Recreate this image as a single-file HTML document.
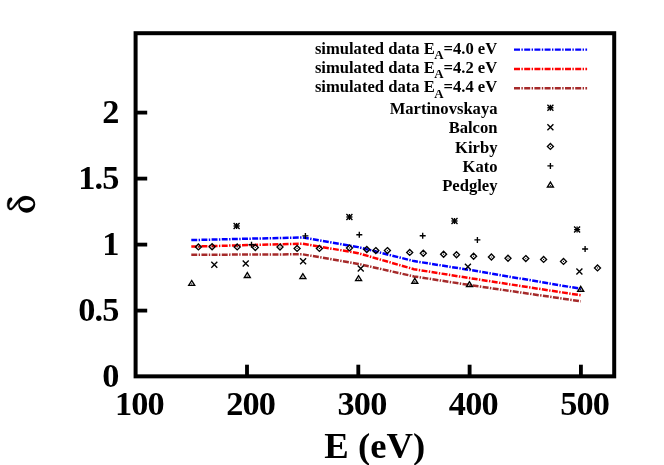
<!DOCTYPE html>
<html><head><meta charset="utf-8"><title>plot</title>
<style>html,body{margin:0;padding:0;background:#fff;}svg{display:block;will-change:transform;}text{font-family:"Liberation Serif",serif;font-weight:bold;fill:#000;}</style></head>
<body>
<svg width="664" height="465" viewBox="0 0 664 465">
<rect x="0" y="0" width="664" height="465" fill="#ffffff"/>
<polyline points="191.3,240.1 302.6,237.4 358.2,247.1 413.9,261.1 469.5,269.9 580.8,288.8" fill="none" stroke="#0000ff" stroke-width="2.5" stroke-dasharray="5.95 1.4 1.4 1.4"/>
<polyline points="191.3,246.6 302.6,243.7 358.2,253.2 413.9,269.2 469.5,278.1 580.8,295.3" fill="none" stroke="#ff0000" stroke-width="2.5" stroke-dasharray="5.95 1.4 1.4 1.4"/>
<polyline points="191.3,254.8 302.6,254.3 358.2,263.9 413.9,276.4 469.5,285.0 580.8,301.3" fill="none" stroke="#a52a2a" stroke-width="2.5" stroke-dasharray="5.95 1.4 1.4 1.4"/>
<line x1="514" y1="49.6" x2="587.1" y2="49.6" stroke="#0000ff" stroke-width="2.4" stroke-dasharray="6 1.4 1.4 1.4"/>
<line x1="514" y1="69.0" x2="587.1" y2="69.0" stroke="#ff0000" stroke-width="2.4" stroke-dasharray="6 1.4 1.4 1.4"/>
<line x1="514" y1="88.3" x2="587.1" y2="88.3" stroke="#a52a2a" stroke-width="2.4" stroke-dasharray="6 1.4 1.4 1.4"/>
<g fill="none" stroke="#000" stroke-width="1.35">
<path d="M233.6 226.0H239.6M236.6 223.0V229.0"/><path d="M233.6 223.0L239.6 229.0M233.6 229.0L239.6 223.0"/>
<path d="M346.4 217.0H352.4M349.4 214.0V220.0"/><path d="M346.4 214.0L352.4 220.0M346.4 220.0L352.4 214.0"/>
<path d="M451.5 221.0H457.5M454.5 218.0V224.0"/><path d="M451.5 218.0L457.5 224.0M451.5 224.0L457.5 218.0"/>
<path d="M574.1 229.6H580.1M577.1 226.6V232.6"/><path d="M574.1 226.6L580.1 232.6M574.1 232.6L580.1 226.6"/>
<path d="M547.4 107.7H553.4M550.4 104.7V110.7"/><path d="M547.4 104.7L553.4 110.7M547.4 110.7L553.4 104.7"/>
<path d="M211.3 261.7L217.3 267.7M211.3 267.7L217.3 261.7"/>
<path d="M242.7 260.6L248.7 266.6M242.7 266.6L248.7 260.6"/>
<path d="M300.1 258.2L306.1 264.2M300.1 264.2L306.1 258.2"/>
<path d="M357.7 265.6L363.7 271.6M357.7 271.6L363.7 265.6"/>
<path d="M464.9 263.8L470.9 269.8M464.9 269.8L470.9 263.8"/>
<path d="M576.4 268.6L582.4 274.6M576.4 274.6L582.4 268.6"/>
<path d="M547.4 124.2L553.4 130.2M547.4 130.2L553.4 124.2"/>
<path d="M198.4 243.9L201.4 246.9L198.4 249.9L195.4 246.9Z"/><circle cx="198.4" cy="246.9" r="0.6" fill="#000" stroke="none"/>
<path d="M212.1 243.8L215.1 246.8L212.1 249.8L209.1 246.8Z"/><circle cx="212.1" cy="246.8" r="0.6" fill="#000" stroke="none"/>
<path d="M237.2 243.9L240.2 246.9L237.2 249.9L234.2 246.9Z"/><circle cx="237.2" cy="246.9" r="0.6" fill="#000" stroke="none"/>
<path d="M255.3 244.5L258.3 247.5L255.3 250.5L252.3 247.5Z"/><circle cx="255.3" cy="247.5" r="0.6" fill="#000" stroke="none"/>
<path d="M280.0 244.1L283.0 247.1L280.0 250.1L277.0 247.1Z"/><circle cx="280.0" cy="247.1" r="0.6" fill="#000" stroke="none"/>
<path d="M297.1 245.4L300.1 248.4L297.1 251.4L294.1 248.4Z"/><circle cx="297.1" cy="248.4" r="0.6" fill="#000" stroke="none"/>
<path d="M319.4 245.4L322.4 248.4L319.4 251.4L316.4 248.4Z"/><circle cx="319.4" cy="248.4" r="0.6" fill="#000" stroke="none"/>
<path d="M349.5 244.9L352.5 247.9L349.5 250.9L346.5 247.9Z"/><circle cx="349.5" cy="247.9" r="0.6" fill="#000" stroke="none"/>
<path d="M366.8 246.5L369.8 249.5L366.8 252.5L363.8 249.5Z"/><circle cx="366.8" cy="249.5" r="0.6" fill="#000" stroke="none"/>
<path d="M375.8 247.6L378.8 250.6L375.8 253.6L372.8 250.6Z"/><circle cx="375.8" cy="250.6" r="0.6" fill="#000" stroke="none"/>
<path d="M387.4 247.6L390.4 250.6L387.4 253.6L384.4 250.6Z"/><circle cx="387.4" cy="250.6" r="0.6" fill="#000" stroke="none"/>
<path d="M409.7 249.4L412.7 252.4L409.7 255.4L406.7 252.4Z"/><circle cx="409.7" cy="252.4" r="0.6" fill="#000" stroke="none"/>
<path d="M423.3 250.2L426.3 253.2L423.3 256.2L420.3 253.2Z"/><circle cx="423.3" cy="253.2" r="0.6" fill="#000" stroke="none"/>
<path d="M443.6 251.2L446.6 254.2L443.6 257.2L440.6 254.2Z"/><circle cx="443.6" cy="254.2" r="0.6" fill="#000" stroke="none"/>
<path d="M456.5 251.8L459.5 254.8L456.5 257.8L453.5 254.8Z"/><circle cx="456.5" cy="254.8" r="0.6" fill="#000" stroke="none"/>
<path d="M473.6 253.2L476.6 256.2L473.6 259.2L470.6 256.2Z"/><circle cx="473.6" cy="256.2" r="0.6" fill="#000" stroke="none"/>
<path d="M491.4 254.0L494.4 257.0L491.4 260.0L488.4 257.0Z"/><circle cx="491.4" cy="257.0" r="0.6" fill="#000" stroke="none"/>
<path d="M508.0 255.2L511.0 258.2L508.0 261.2L505.0 258.2Z"/><circle cx="508.0" cy="258.2" r="0.6" fill="#000" stroke="none"/>
<path d="M525.8 255.6L528.8 258.6L525.8 261.6L522.8 258.6Z"/><circle cx="525.8" cy="258.6" r="0.6" fill="#000" stroke="none"/>
<path d="M543.6 256.4L546.6 259.4L543.6 262.4L540.6 259.4Z"/><circle cx="543.6" cy="259.4" r="0.6" fill="#000" stroke="none"/>
<path d="M563.5 258.4L566.5 261.4L563.5 264.4L560.5 261.4Z"/><circle cx="563.5" cy="261.4" r="0.6" fill="#000" stroke="none"/>
<path d="M597.5 264.9L600.5 267.9L597.5 270.9L594.5 267.9Z"/><circle cx="597.5" cy="267.9" r="0.6" fill="#000" stroke="none"/>
<path d="M550.4 143.4L553.4 146.4L550.4 149.4L547.4 146.4Z"/><circle cx="550.4" cy="146.4" r="0.6" fill="#000" stroke="none"/>
<path d="M248.5 244.7H254.5M251.5 241.7V247.7"/>
<path d="M302.4 235.9H308.4M305.4 232.9V238.9"/>
<path d="M356.3 234.7H362.3M359.3 231.7V237.7"/>
<path d="M419.7 235.7H425.7M422.7 232.7V238.7"/>
<path d="M474.4 239.9H480.4M477.4 236.9V242.9"/>
<path d="M582.1 249.0H588.1M585.1 246.0V252.0"/>
<path d="M547.4 165.9H553.4M550.4 162.9V168.9"/>
<path d="M191.7 280.5L188.7 285.4L194.7 285.4Z"/><circle cx="191.7" cy="283.9" r="0.6" fill="#000" stroke="none"/>
<path d="M247.3 272.6L244.3 277.5L250.3 277.5Z"/><circle cx="247.3" cy="276.0" r="0.6" fill="#000" stroke="none"/>
<path d="M302.9 273.7L299.9 278.6L305.9 278.6Z"/><circle cx="302.9" cy="277.1" r="0.6" fill="#000" stroke="none"/>
<path d="M358.6 275.7L355.6 280.6L361.6 280.6Z"/><circle cx="358.6" cy="279.1" r="0.6" fill="#000" stroke="none"/>
<path d="M414.8 278.3L411.8 283.2L417.8 283.2Z"/><circle cx="414.8" cy="281.7" r="0.6" fill="#000" stroke="none"/>
<path d="M469.5 281.7L466.5 286.6L472.5 286.6Z"/><circle cx="469.5" cy="285.1" r="0.6" fill="#000" stroke="none"/>
<path d="M580.7 286.3L577.7 291.2L583.7 291.2Z"/><circle cx="580.7" cy="289.7" r="0.6" fill="#000" stroke="none"/>
<path d="M550.4 182.1L547.4 187.0L553.4 187.0Z"/><circle cx="550.4" cy="185.5" r="0.6" fill="#000" stroke="none"/>
</g>
<g fill="none" stroke="#000" stroke-width="4.0" stroke-linecap="butt">
<rect x="135.60" y="33.20" width="478.60" height="343.15"/>
<path d="M135.60 310.60H147.20" stroke-width="3.8"/>
<path d="M135.60 244.60H147.20" stroke-width="3.8"/>
<path d="M135.60 178.60H147.20" stroke-width="3.8"/>
<path d="M135.60 112.60H147.20" stroke-width="3.8"/>
<path d="M247.00 376.35V364.70" stroke-width="3.85"/>
<path d="M358.30 376.35V364.70" stroke-width="3.85"/>
<path d="M469.61 376.35V364.70" stroke-width="3.85"/>
<path d="M580.91 376.35V364.70" stroke-width="3.85"/>
</g>
<text x="118.55" y="387.3" font-size="34.3" text-anchor="end" letter-spacing="-0.85">0</text>
<text x="118.55" y="321.3" font-size="34.3" text-anchor="end" letter-spacing="-0.85">0.5</text>
<text x="118.55" y="255.3" font-size="34.3" text-anchor="end" letter-spacing="-0.85">1</text>
<text x="118.55" y="189.3" font-size="34.3" text-anchor="end" letter-spacing="-0.85">1.5</text>
<text x="118.55" y="123.3" font-size="34.3" text-anchor="end" letter-spacing="-0.85">2</text>
<text x="139.4" y="414.6" font-size="34.3" text-anchor="middle" letter-spacing="-0.85">100</text>
<text x="250.7" y="414.6" font-size="34.3" text-anchor="middle" letter-spacing="-0.85">200</text>
<text x="362.0" y="414.6" font-size="34.3" text-anchor="middle" letter-spacing="-0.85">300</text>
<text x="473.3" y="414.6" font-size="34.3" text-anchor="middle" letter-spacing="-0.85">400</text>
<text x="584.6" y="414.6" font-size="34.3" text-anchor="middle" letter-spacing="-0.85">500</text>
<text x="374.8" y="457.7" font-size="36.7" text-anchor="middle">E (eV)</text>
<text x="497.2" y="53.5" font-size="16.6" text-anchor="end">simulated data E<tspan font-size="12.9" dy="5.3" dx="-0.5">A</tspan><tspan dy="-5.3" dx="-0.07">=4.0 eV</tspan></text>
<text x="497.2" y="73.0" font-size="16.6" text-anchor="end">simulated data E<tspan font-size="12.9" dy="5.3" dx="-0.5">A</tspan><tspan dy="-5.3" dx="-0.07">=4.2 eV</tspan></text>
<text x="497.2" y="92.4" font-size="16.6" text-anchor="end">simulated data E<tspan font-size="12.9" dy="5.3" dx="-0.5">A</tspan><tspan dy="-5.3" dx="-0.07">=4.4 eV</tspan></text>
<text x="497.5" y="113.7" font-size="16.6" text-anchor="end">Martinovskaya</text>
<text x="497.5" y="133.1" font-size="16.6" text-anchor="end">Balcon</text>
<text x="497.5" y="152.5" font-size="16.6" text-anchor="end">Kirby</text>
<text x="497.5" y="171.8" font-size="16.6" text-anchor="end">Kato</text>
<text x="497.5" y="191.2" font-size="16.6" text-anchor="end">Pedgley</text>
<g id="delta"><path d="M26.7 196.0C31.5 196.0 35.2 199.6 35.2 204.3C35.2 209.0 31.5 212.7 26.7 212.7C22.0 212.7 18.3 209.0 18.3 204.3C18.3 199.6 22.0 196.0 26.7 196.0Z" fill="#000"/><ellipse cx="26.55" cy="204.0" rx="6.85" ry="4.3" fill="#fff" transform="rotate(-7 26.55 204.0)"/>
<path d="M11.04 197.53L8.93 198.43L7.72 200.54L7.18 203.25L7.18 205.96L7.90 208.37L9.53 210.00L11.64 210.00L13.75 208.37L16.16 205.54L18.57 202.65L26.10 196.02L22.48 196.51L20.07 197.83L17.78 199.94L15.55 202.77L13.45 205.78L11.94 207.47L10.55 208.07L9.59 207.17L9.35 205.06L10.13 202.95L11.34 201.45L12.12 199.94L11.94 198.13Z" fill="#000" stroke="#000" stroke-width="0.3" stroke-linejoin="round"/><circle cx="10.45" cy="199.6" r="1.75" fill="#000"/></g>
</svg>
</body></html>
